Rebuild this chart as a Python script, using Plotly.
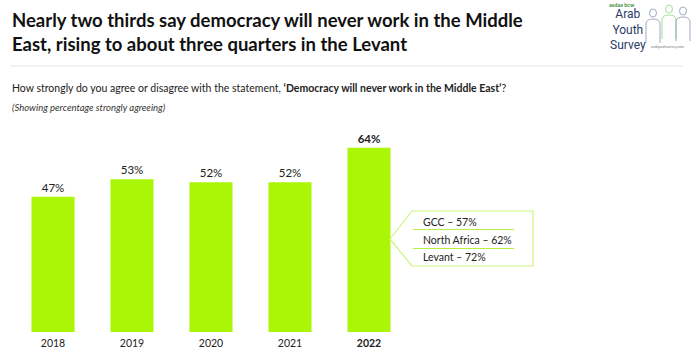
import plotly.graph_objects as go

W, H = 696, 353

years = ["2018", "2019", "2020", "2021", "2022"]
values = [47, 53, 52, 52, 64]
region_names = ["GCC", "North Africa", "Levant"]
region_values = [57, 62, 72]

title_lines = ["Nearly two thirds say democracy will never work in the Middle",
               "East, rising to about three quarters in the Levant"]
question = "How strongly do you agree or disagree with the statement, <b>\u2018Democracy will never work in the Middle East\u2019</b>?"
note = "<i>(Showing percentage strongly agreeing)</i>"

BAR = "#ABF606"
FONT = "Lato"

def px(x):
    return x / W

def py(y):
    return (H - y) / H

bar_text = [f"{v}%" if y != "2022" else f"<b>{v}%</b>" for y, v in zip(years, values)]
tick_text = [y if y != "2022" else f"<b>{y}</b>" for y in years]

fig = go.Figure(go.Bar(
    x=years, y=values, marker_color=BAR, marker_line_width=0,
    text=bar_text, textposition="outside", cliponaxis=False,
    textfont=dict(family=FONT, size=11.5, color="#222"),
))

# plot area: x from 13.5 px, 79 px per category; y zero at 332 px, 2.88 px per %
x0_px, step = 13.5, 79.0
y0_px, ppu = 332.0, 2.88
top_px = 120.0
xr = (W - x0_px) / step - 0.5
yr = (y0_px - top_px) / ppu

fig.update_layout(
    width=W, height=H, margin=dict(l=0, r=0, t=0, b=0),
    paper_bgcolor="white", plot_bgcolor="white",
    showlegend=False, bargap=0.455,
    font=dict(family=FONT, color="#222"),
    xaxis=dict(domain=[px(x0_px), 1], range=[-0.5, xr], type="category",
               tickvals=years, ticktext=tick_text, showgrid=False, zeroline=False,
               showline=False, ticks="", tickfont=dict(family=FONT, size=10.5, color="#222"),
               ticklabelstandoff=3, automargin=False),
    yaxis=dict(domain=[py(y0_px), py(top_px)], range=[0, yr], visible=False,
               automargin=False),
)

ann = []
for i, line in enumerate(title_lines):
    ann.append(dict(text=f"<b>{line}</b>", x=px(10), y=py(20 + i * 24), xref="paper", yref="paper",
                    xanchor="left", yanchor="middle", showarrow=False,
                    font=dict(family=FONT, size=18.5, color="#111")))
ann.append(dict(text=question, x=px(10), y=py(88), xref="paper", yref="paper",
                xanchor="left", yanchor="middle", showarrow=False,
                font=dict(family=FONT, size=10.5, color="#222")))
ann.append(dict(text=note, x=px(10), y=py(108), xref="paper", yref="paper",
                xanchor="left", yanchor="middle", showarrow=False,
                font=dict(family=FONT, size=9.5, color="#333")))

# callout
shapes = [
    dict(type="line", xref="paper", yref="paper", x0=px(10), x1=px(683), y0=py(66), y1=py(66),
         line=dict(color="#E6E6E6", width=1)),
    dict(type="path", xref="paper", yref="paper",
         path=f"M {px(390)} {py(239)} L {px(412)} {py(211)} L {px(533)} {py(211)} "
              f"L {px(533)} {py(266)} L {px(412)} {py(266)} Z",
         line=dict(color="#CDF37F", width=1.2), fillcolor="rgba(0,0,0,0)"),
]
row_y = [222, 240, 257]
for i, (n, v) in enumerate(zip(region_names, region_values)):
    ann.append(dict(text=f"{n} \u2013 {v}%", x=px(421), y=py(row_y[i]), xref="paper", yref="paper",
                    xanchor="left", yanchor="middle", showarrow=False,
                    font=dict(family=FONT, size=10.5, color="#222")))
for ly in [229.5, 248.5]:
    shapes.append(dict(type="line", xref="paper", yref="paper", x0=px(413), x1=px(514),
                       y0=py(ly), y1=py(ly), line=dict(color="#B9F040", width=1)))

# logo (approximation)
ann.append(dict(text="<b>asdaa bcw</b>", x=px(622), y=py(5), xref="paper", yref="paper",
                xanchor="center", yanchor="middle", showarrow=False,
                font=dict(family=FONT, size=5.5, color="#3A8A3A")))
ann.append(dict(text="Arab<br>Youth<br>Survey", x=px(628), y=py(30), xref="paper", yref="paper",
                xanchor="center", yanchor="middle", showarrow=False, align="center",
                font=dict(family="Liberation Sans Narrow, Roboto", size=12, color="#2B3A67")))
ann.append(dict(text="arabyouthsurvey.com", x=px(667), y=py(47), xref="paper", yref="paper",
                xanchor="center", yanchor="middle", showarrow=False,
                font=dict(family=FONT, size=3.5, color="#777")))
gray, green = "#8C95B2", "#8ED67E"
def person(cx, top, col):
    return [
        dict(type="circle", xref="paper", yref="paper", x0=px(cx - 3.5), x1=px(cx + 3.5),
             y0=py(top + 8), y1=py(top), line=dict(color=col, width=0.8)),
        dict(type="path", xref="paper", yref="paper",
             path=f"M {px(cx - 7)} {py(top + 34)} L {px(cx - 7)} {py(top + 14)} "
                  f"Q {px(cx - 6)} {py(top + 10)} {px(cx)} {py(top + 10)} "
                  f"Q {px(cx + 6)} {py(top + 10)} {px(cx + 7)} {py(top + 14)} L {px(cx + 7)} {py(top + 34)}",
             line=dict(color=col, width=0.8)),
    ]
shapes += person(653, 9, gray) + person(669, 5, green) + person(683, 7, gray)

fig.update_layout(annotations=ann, shapes=shapes)
fig.write_html("out.html")
